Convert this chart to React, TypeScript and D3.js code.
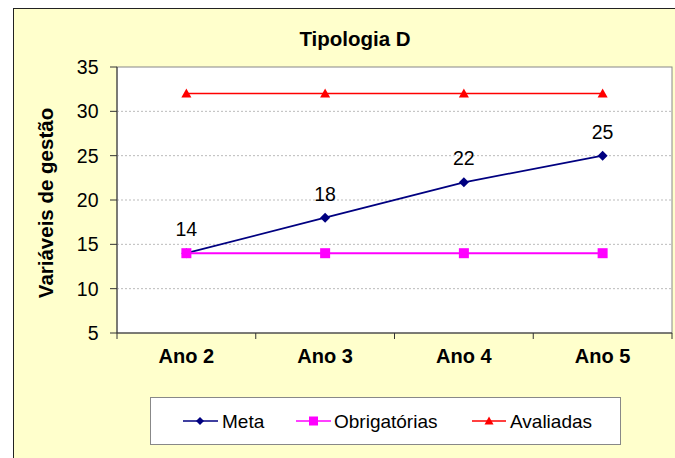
import React from "react";
import * as d3 from "d3";

const categories = ["Ano 2", "Ano 3", "Ano 4", "Ano 5"];
const meta = [14, 18, 22, 25];
const obrigatorias = [14, 14, 14, 14];
const avaliadas = [32, 32, 32, 32];
const yTicks = [5, 10, 15, 20, 25, 30, 35];

const W = 675;
const H = 458;
const plot = { left: 117, top: 67, right: 672, bottom: 333 };
const font = "Arial, 'Liberation Sans', sans-serif";

export default function App() {
  const x = d3
    .scaleBand()
    .domain(categories)
    .range([plot.left, plot.right]);
  const y = d3.scaleLinear().domain([5, 35]).range([plot.bottom, plot.top]);
  const cx = (c: string) => (x(c) as number) + x.bandwidth() / 2;

  const line = d3
    .line<number>()
    .x((d, i) => cx(categories[i]))
    .y((d) => y(d));

  const diamond = (px: number, py: number, r: number) =>
    `M${px},${py - r}L${px + r},${py}L${px},${py + r}L${px - r},${py}Z`;
  const triangle = (px: number, py: number, r: number) =>
    `M${px},${py - r}L${px + r},${py + r * 0.8}L${px - r},${py + r * 0.8}Z`;

  const xEdges = [plot.left, ...categories.map((c) => (x(c) as number) + x.bandwidth())];

  return (
    <div style={{ position: "fixed", left: 0, top: 0 }}>
      <svg width={W} height={H} style={{ display: "block" }}>
        <rect x={0} y={0} width={W} height={H} fill="#fff" />
        <rect x={13.5} y={8.5} width={680} height={470} fill="#FFFFCC" stroke="#222" strokeWidth={1} />

        <text x={355} y={46} textAnchor="middle" fontFamily={font} fontWeight="bold" fontSize={20.5}>
          Tipologia D
        </text>

        <rect
          x={plot.left}
          y={plot.top}
          width={plot.right - plot.left}
          height={plot.bottom - plot.top}
          fill="#fff"
          stroke="#888"
        />

        {yTicks.slice(1, -1).map((t) => (
          <line
            key={t}
            x1={plot.left}
            x2={plot.right}
            y1={y(t)}
            y2={y(t)}
            stroke="#bbb"
            strokeDasharray="2,2"
          />
        ))}

        {/* axes */}
        <line x1={plot.left} x2={plot.left} y1={plot.top} y2={plot.bottom} stroke="#333" />
        <line x1={plot.left} x2={plot.right} y1={plot.bottom} y2={plot.bottom} stroke="#333" />
        {yTicks.map((t) => (
          <g key={t}>
            <line x1={plot.left - 7} x2={plot.left} y1={y(t)} y2={y(t)} stroke="#333" />
            <text
              x={98.5}
              y={y(t) + 7}
              textAnchor="end"
              fontFamily={font}
              fontSize={19.5}
            >
              {t}
            </text>
          </g>
        ))}
        {xEdges.map((e, i) => (
          <line key={i} x1={e} x2={e} y1={plot.bottom} y2={plot.bottom + 6} stroke="#333" />
        ))}
        {categories.map((c) => (
          <text
            key={c}
            x={cx(c)}
            y={363}
            textAnchor="middle"
            fontFamily={font}
            fontWeight="bold"
            fontSize={20}
          >
            {c}
          </text>
        ))}

        <text
          transform={`translate(53,203) rotate(-90)`}
          textAnchor="middle"
          fontFamily={font}
          fontWeight="bold"
          fontSize={20.5}
        >
          Variáveis de gestão
        </text>

        {/* series, drawn in Excel order */}
        <path d={line(meta) as string} fill="none" stroke="#000080" strokeWidth={1.8} />
        {meta.map((v, i) => (
          <g key={i}>
            <path d={diamond(cx(categories[i]), y(v), 5)} fill="#000080" />
            <text
              x={cx(categories[i])}
              y={y(v) - 17}
              textAnchor="middle"
              fontFamily={font}
              fontSize={19.5}
            >
              {v}
            </text>
          </g>
        ))}

        <path d={line(obrigatorias) as string} fill="none" stroke="#FF00FF" strokeWidth={2} />
        {obrigatorias.map((v, i) => (
          <rect key={i} x={cx(categories[i]) - 5} y={y(v) - 5} width={10} height={10} fill="#FF00FF" />
        ))}

        <path d={line(avaliadas) as string} fill="none" stroke="#FF0000" strokeWidth={1.5} />
        {avaliadas.map((v, i) => (
          <path key={i} d={triangle(cx(categories[i]), y(v), 5)} fill="#FF0000" />
        ))}

        {/* legend */}
        <rect x={150.5} y={397.5} width={470} height={47} fill="#fff" stroke="#888" />
        <g fontFamily={font} fontSize={19}>
          <line x1={183} x2={218} y1={421} y2={421} stroke="#000080" strokeWidth={1.5} />
          <path d={diamond(200, 421, 4)} fill="#000080" />
          <text x={222} y={428}>Meta</text>

          <line x1={296} x2={331} y1={421} y2={421} stroke="#FF00FF" strokeWidth={1.5} />
          <rect x={309} y={416.5} width={9} height={9} fill="#FF00FF" />
          <text x={334} y={428}>Obrigatórias</text>

          <line x1={472} x2={506} y1={421} y2={421} stroke="#FF0000" strokeWidth={1.5} />
          <path d={triangle(489, 421, 4.5)} fill="#FF0000" />
          <text x={510} y={428}>Avaliadas</text>
        </g>
      </svg>
    </div>
  );
}
